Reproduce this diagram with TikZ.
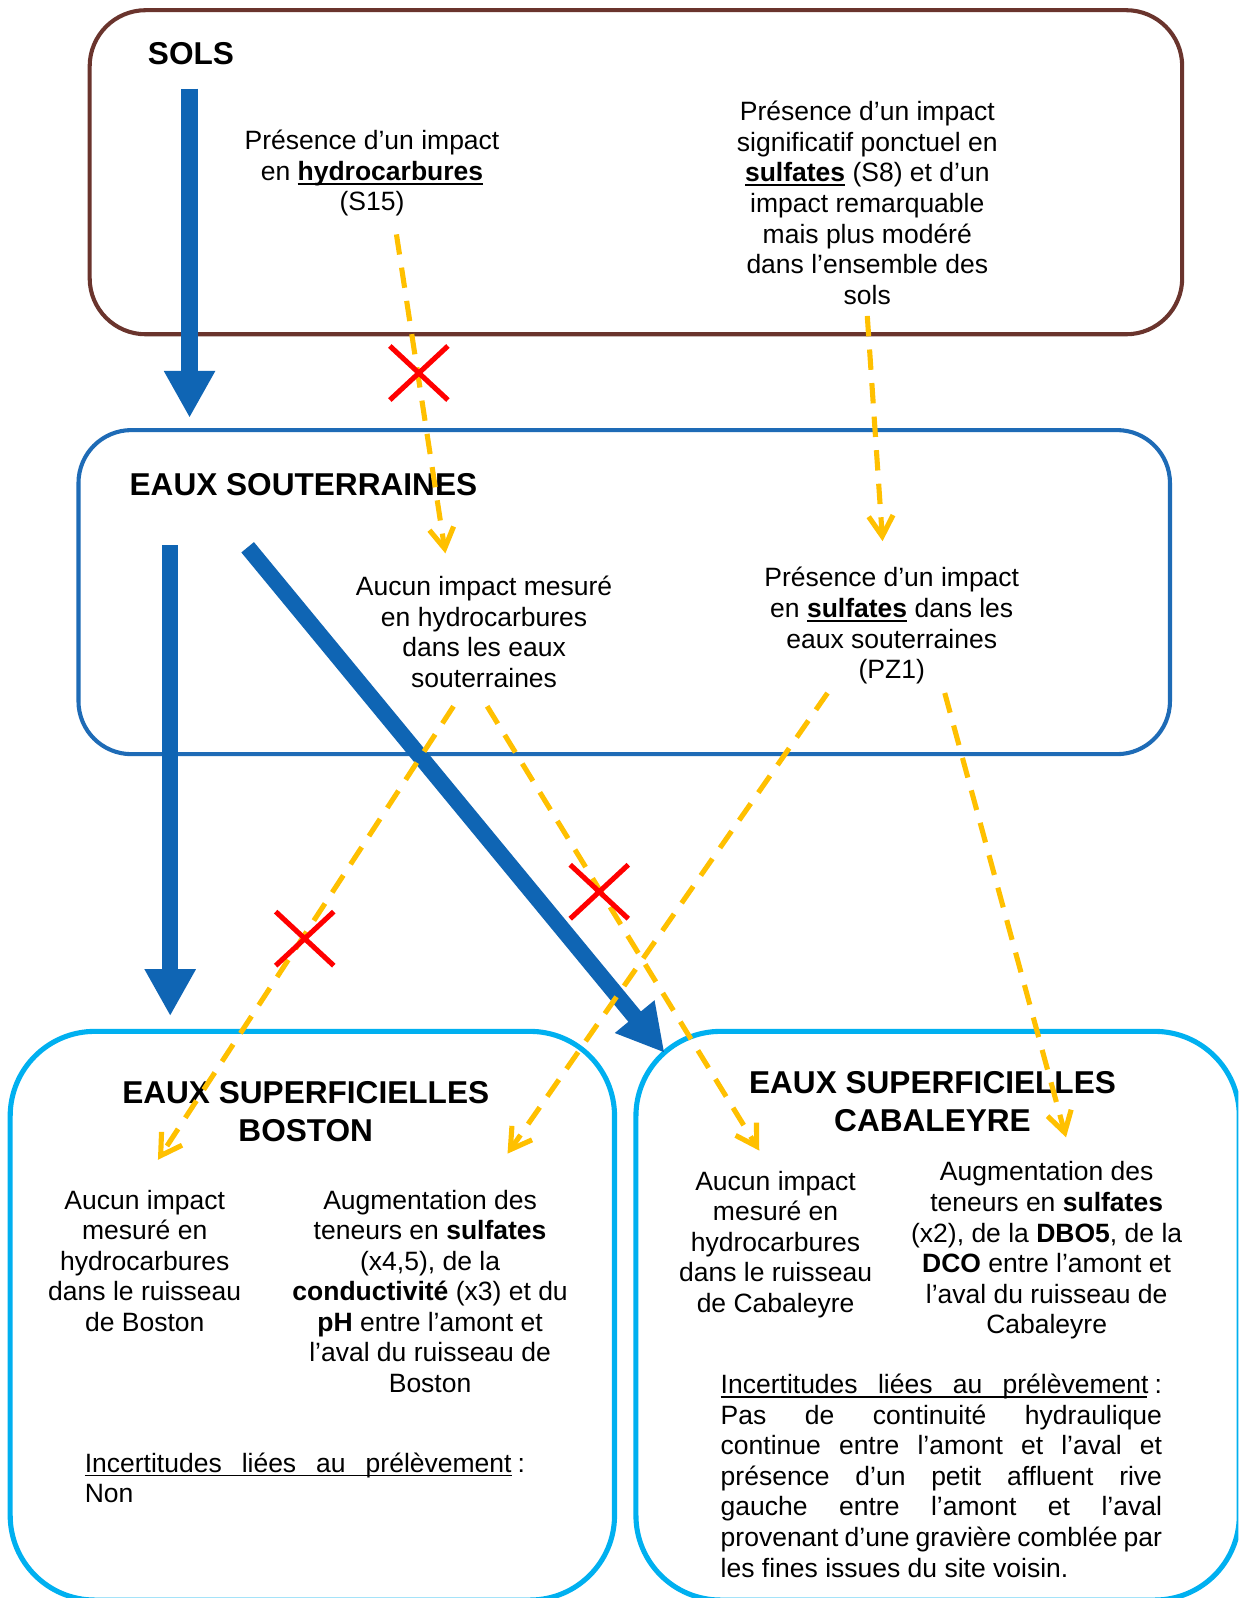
\documentclass[tikz,border=0pt]{standalone}
\usepackage{fontspec}
\setmainfont{Liberation Sans}
\usetikzlibrary{arrows.meta,shapes.misc}
\definecolor{brn}{HTML}{6A342D}
\definecolor{esblue}{HTML}{1E6BB6}
\definecolor{arrblue}{HTML}{0F65B4}
\definecolor{cyanb}{HTML}{00B0F0}
\definecolor{ylw}{HTML}{FFC000}
\newsavebox\ulbox
\newcommand\myul[1]{\sbox\ulbox{#1}\rlap{\rule[-4.5pt]{\wd\ulbox}{2.2pt}}\usebox\ulbox}
\newcommand\jline[2]{\makebox[#1][s]{#2}}
\begin{document}
\begin{tikzpicture}[x=1pt,y={(0pt,-1pt)},
  txt/.style={font=\fontsize{26}{30}\selectfont, align=center, inner sep=0pt},
  ttl/.style={font=\fontsize{31}{37}\selectfont\bfseries, align=center, inner sep=0pt},
  jtxt/.style={font=\fontsize{26}{30}\selectfont, align=left, inner sep=0pt, anchor=west},
  boxshape/.style={rectangle, inner sep=0pt, fill=none},
  dsh/.style={draw=ylw, line width=5pt, dash pattern=on 20pt off 13pt, -{Straight Barb[length=20pt,width=24pt]}},
  bigarr/.style={draw=arrblue, line width=16pt, -{Triangle[length=46pt,width=47pt]}},
  nocross/.style={cross out, draw=red, line width=5pt, inner sep=0pt, minimum width=52pt, minimum height=48pt}
]
\useasboundingbox (0,0) rectangle (1215,1568);
\fill[white] (0,0) rectangle (1215,1568);
\clip (0,0) rectangle (1215,1568);

% boxes
\node[boxshape, draw=brn, line width=4pt, rounded corners=55pt, minimum width=1072pt, minimum height=318pt] (sols) at (624,169) {};
\node[boxshape, draw=esblue, line width=4pt, rounded corners=52pt, minimum width=1071pt, minimum height=318pt] (eso) at (612.5,581) {};
\node[boxshape, draw=cyanb, line width=5pt, rounded corners=83pt, minimum width=593pt, minimum height=558pt] (bos) at (306.5,1291) {};
\node[boxshape, draw=cyanb, line width=5pt, rounded corners=83pt, minimum width=592pt, minimum height=558pt] (cab) at (920,1291) {};

% big blue arrows
\coordinate (b1s) at (186,87);  \coordinate (b1e) at (186,410);
\coordinate (b2s) at (167,535); \coordinate (b2e) at (167,997);
\coordinate (b3s) at (243,537); \coordinate (b3e) at (652,1033);
\draw[bigarr] (b1s) -- (b1e);
\draw[bigarr] (b2s) -- (b2e);
\draw[bigarr] (b3s) -- (b3e);

% titles
\node[ttl, anchor=west] (tsols) at (145,53) {SOLS};
\node[ttl, anchor=west] (teso) at (127,476) {EAUX SOUTERRAINES};
\node[ttl] (tbos) at (300,1091) {EAUX SUPERFICIELLES\\BOSTON};
\node[ttl] (tcab) at (915,1081) {EAUX SUPERFICIELLES\\CABALEYRE};

% texts
\node[txt] (s1) at (365,170) {Présence d’un impact\\en \myul{\textbf{hydrocarbures}}\\(S15)};
\node[txt] (s2) at (851,199) {Présence d’un impact\\significatif ponctuel en\\\myul{\textbf{sulfates}} (S8) et d’un\\impact remarquable\\mais plus modéré\\dans l’ensemble des\\sols};
\node[txt] (e1) at (475,620) {Aucun impact mesuré\\en hydrocarbures\\dans les eaux\\souterraines};
\node[txt] (e2) at (875,614) {Présence d’un impact\\en \myul{\textbf{sulfates}} dans les\\eaux souterraines\\(PZ1)};
\node[txt] (bo1) at (142,1237) {Aucun impact\\mesuré en\\hydrocarbures\\dans le ruisseau\\de Boston};
\node[txt] (bo2) at (422,1267) {Augmentation des\\teneurs en \textbf{sulfates}\\(x4,5), de la\\\textbf{conductivité} (x3) et du\\\textbf{pH} entre l’amont et\\l’aval du ruisseau de\\Boston};
\node[jtxt] (bo3) at (83,1450) {\jline{432pt}{\rlap{\rule[-4pt]{419pt}{1.6pt}}Incertitudes liées au prélèvement\kern6pt:}\\Non};
\node[txt] (ca1) at (761,1221) {Aucun impact\\mesuré en\\hydrocarbures\\dans le ruisseau\\de Cabaleyre};
\node[txt] (ca2) at (1027,1227) {Augmentation des\\teneurs en \textbf{sulfates}\\(x2), de la \textbf{DBO5}, de la\\\textbf{DCO} entre l’amont et\\l’aval du ruisseau de\\Cabaleyre};
\node[jtxt] (ca3) at (707,1448) {\jline{433pt}{\rlap{\rule[-4pt]{418pt}{1.6pt}}Incertitudes liées au prélèvement\kern6pt:}\\
\jline{433pt}{Pas de continuité hydraulique}\\
\jline{433pt}{continue entre l’amont et l’aval et}\\
\jline{433pt}{présence d’un petit affluent rive}\\
\jline{433pt}{gauche entre l’amont et l’aval}\\
\jline{433pt}{provenant d’une gravière comblée par}\\
les fines issues du site voisin.};

% dashed connectors
\coordinate (d1s) at (389,230); \coordinate (d1e) at (437,543);
\coordinate (d2s) at (851,310); \coordinate (d2e) at (866,531);
\coordinate (d3s) at (445,693); \coordinate (d3e) at (155,1138);
\coordinate (d4s) at (478,693); \coordinate (d4e) at (745,1129);
\coordinate (d5s) at (812,680); \coordinate (d5e) at (498,1132);
\coordinate (d6s) at (927,680); \coordinate (d6e) at (1046,1116);
\draw[dsh] (d1s) -- (d1e);
\draw[dsh] (d2s) -- (d2e);
\draw[dsh] (d3s) -- (d3e);
\draw[dsh] (d4s) -- (d4e);
\draw[dsh] (d5s) -- (d5e);
\draw[dsh] (d6s) -- (d6e);

% crosses
\node[nocross] (x1) at (411,366) {};
\node[nocross] (x2) at (299,921) {};
\node[nocross] (x3) at (588,875) {};
\end{tikzpicture}
\end{document}
